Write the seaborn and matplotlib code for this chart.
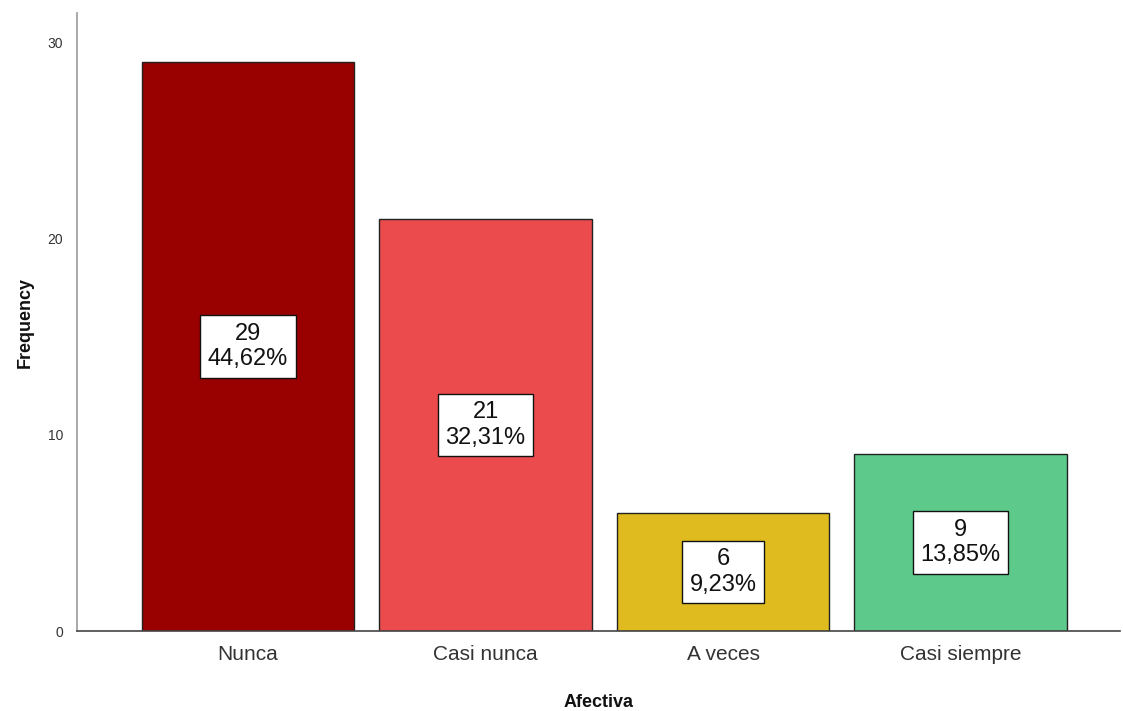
import matplotlib
matplotlib.use("Agg")
import matplotlib.pyplot as plt
import seaborn as sns
import pandas as pd

categories = ["Nunca", "Casi nunca", "A veces", "Casi siempre"]
counts = [29, 21, 6, 9]
percent_labels = ["44,62%", "32,31%", "9,23%", "13,85%"]
colors = ["#990000", "#EB4B4D", "#E0BB1F", "#5DC98A"]

sns.set_theme(style="white")
plt.rcParams['font.family'] = ['Liberation Sans', 'DejaVu Sans']

df = pd.DataFrame({"Afectiva": categories, "Frequency": counts})

fig = plt.figure(figsize=(11.23, 7.11), dpi=100)
ax = fig.add_axes([0.0686, 0.1125, 0.9284, 0.8692])

sns.barplot(data=df, x="Afectiva", y="Frequency", hue="Afectiva", palette=colors,
            order=categories, hue_order=categories, legend=False, width=0.895,
            edgecolor="#222222", linewidth=1.0, saturation=1, ax=ax)

for i, (c, p) in enumerate(zip(counts, percent_labels)):
    ax.text(i, c / 2, f"{c}\n{p}", ha="center", va="center", fontsize=17,
            color="#111111", linespacing=1.2,
            bbox=dict(boxstyle="square,pad=0.32", facecolor="white", edgecolor="#111111", linewidth=1.0))

ax.set_xlim(-0.72, 3.67)
ax.set_ylim(0, 31.5)
ax.set_yticks([0, 10, 20, 30])
ax.tick_params(axis="y", length=0, labelsize=10, colors="#333333", pad=10)
ax.tick_params(axis="x", length=0, labelsize=15, colors="#333333", pad=10)
for s in ["top", "right"]:
    ax.spines[s].set_visible(False)
ax.spines["left"].set_color("#999999")
ax.spines["bottom"].set_color("#444444")
ax.spines["left"].set_linewidth(1.2)
ax.spines["bottom"].set_linewidth(1.2)
ax.set_xlabel("Afectiva", fontsize=13, fontweight="bold", color="#111111", labelpad=22)
ax.set_ylabel("Frequency", fontsize=13, fontweight="bold", color="#111111", labelpad=10)

fig.savefig("out.png", dpi=100)
